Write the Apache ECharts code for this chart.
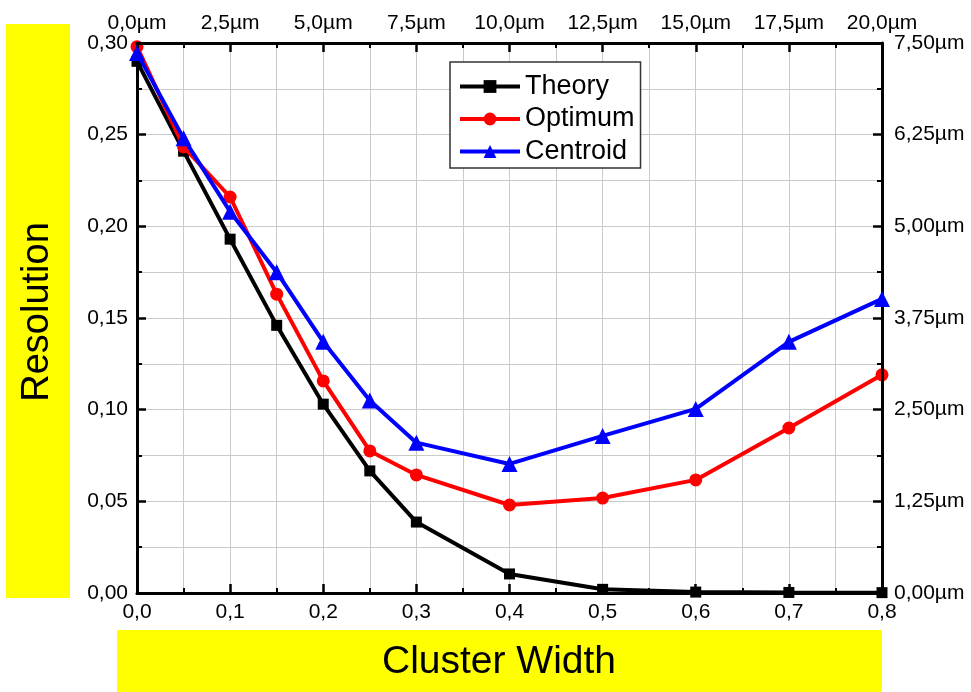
<!DOCTYPE html>
<html>
<head>
<meta charset="utf-8">
<script src="https://cdn.jsdelivr.net/npm/echarts@6/dist/echarts.min.js"></script>
<style>
  html, body { margin: 0; padding: 0; background: #fff; }
  #chart { width: 971px; height: 692px; }
</style>
</head>
<body>
<div id="chart"></div>
<script>
const widths = [0, 0.05, 0.1, 0.15, 0.2, 0.25, 0.3, 0.4, 0.5, 0.6, 0.7, 0.8]
const theory = [0.290, 0.241, 0.193, 0.146, 0.103, 0.0666, 0.0387, 0.0104, 0.002, 0.0005, 0.0003, 0.0002]
const optimum = [0.298, 0.2433, 0.216, 0.163, 0.1157, 0.0775, 0.0644, 0.048, 0.0518, 0.0617, 0.090, 0.119]
const centroid = [0.2946, 0.248, 0.208, 0.175, 0.137, 0.105, 0.082, 0.0704, 0.0857, 0.1004, 0.137, 0.1604]

const font = 'Liberation Sans, Arial, sans-serif'
const comma = (v, d) => v.toFixed(d).replace('.', ',')
const gridColor = '#cacaca'
const axisLine = { show: true, onZero: false, lineStyle: { color: '#000', width: 3 } }
const tick = { inside: true, length: 9, lineStyle: { color: '#000', width: 2.5 } }
const minor = { show: true, splitNumber: 2, length: 5, lineStyle: { color: '#000', width: 2 } }
const lbl = { color: '#000', fontSize: 21, fontFamily: font, margin: 9 }
const hidden = { axisLine: { show: false }, axisTick: { show: false }, axisLabel: { show: false } }

const pts = arr => widths.map((w, i) => [w, arr[i]])

const chart = echarts.init(document.getElementById('chart'))
chart.setOption({
  animation: false,
  grid: { left: 137, right: 89, top: 43, bottom: 99 },
  legend: {
    orient: 'vertical', left: 450, top: 62,
    backgroundColor: '#fff', borderColor: '#333', borderWidth: 1.5, borderRadius: 0,
    padding: [11, 6, 3, 8], itemGap: 5.5, itemWidth: 60, itemHeight: 16,
    lineStyle: { width: 4 },
    textStyle: { fontSize: 27, fontFamily: font, color: '#000' },
    data: ['Theory', 'Optimum', 'Centroid']
  },
  xAxis: [
    {
      type: 'value', position: 'bottom', min: 0, max: 0.8, interval: 0.1, z: 5,
      axisLine, axisTick: tick, minorTick: minor,
      axisLabel: { ...lbl, formatter: v => comma(v, 1) },
      splitLine: { show: false }
    },
    {
      type: 'value', position: 'top', min: 0, max: 20, interval: 2.5, z: 5,
      axisLine, axisTick: tick, minorTick: minor,
      axisLabel: { ...lbl, formatter: v => comma(v, 1) + 'µm' },
      splitLine: { show: false }
    },
    {
      type: 'value', position: 'bottom', min: 0, max: 0.8, interval: 0.05, ...hidden,
      splitLine: { show: true, lineStyle: { color: gridColor, width: 1 } }
    }
  ],
  yAxis: [
    {
      type: 'value', position: 'left', min: 0, max: 0.3, interval: 0.05, z: 5,
      axisLine, axisTick: tick, minorTick: minor,
      axisLabel: { ...lbl, formatter: v => comma(v, 2) },
      splitLine: { show: false }
    },
    {
      type: 'value', position: 'right', min: 0, max: 7.5, interval: 1.25, z: 5,
      axisLine, axisTick: tick, minorTick: minor,
      axisLabel: { ...lbl, margin: 12, formatter: v => comma(v, 2) + 'µm' },
      splitLine: { show: false }
    },
    {
      type: 'value', position: 'left', min: 0, max: 0.3, interval: 0.025, ...hidden,
      splitLine: { show: true, lineStyle: { color: gridColor, width: 1 } }
    }
  ],
  series: [
    {
      name: 'Theory', type: 'line', data: pts(theory), z: 3,
      symbol: 'rect', symbolSize: 11, color: '#000',
      lineStyle: { color: '#000', width: 4 }, itemStyle: { color: '#000' }
    },
    {
      name: 'Optimum', type: 'line', data: pts(optimum), z: 4,
      symbol: 'circle', symbolSize: 13, color: '#ff0000',
      lineStyle: { color: '#ff0000', width: 4 }, itemStyle: { color: '#ff0000' }
    },
    {
      name: 'Centroid', type: 'line', data: pts(centroid), z: 5,
      symbol: 'triangle', symbolSize: 16, color: '#0000ff',
      lineStyle: { color: '#0000ff', width: 4 }, itemStyle: { color: '#0000ff' }
    }
  ],
  graphic: [
    { type: 'rect', shape: { x: 6, y: 24, width: 64, height: 574 }, style: { fill: '#ffff00' }, z: -1 },
    { type: 'rect', shape: { x: 117, y: 630, width: 765, height: 62 }, style: { fill: '#ffff00' }, z: -1 },
    {
      type: 'text', x: 38, y: 312, rotation: Math.PI / 2,
      style: { text: 'Resolution', fontSize: 38, fontFamily: font, fill: '#000', align: 'center', verticalAlign: 'middle' }
    },
    {
      type: 'text', x: 499, y: 662,
      style: { text: 'Cluster Width', fontSize: 39, fontFamily: font, fill: '#000', align: 'center', verticalAlign: 'middle' }
    }
  ]
})
</script>
</body>
</html>
